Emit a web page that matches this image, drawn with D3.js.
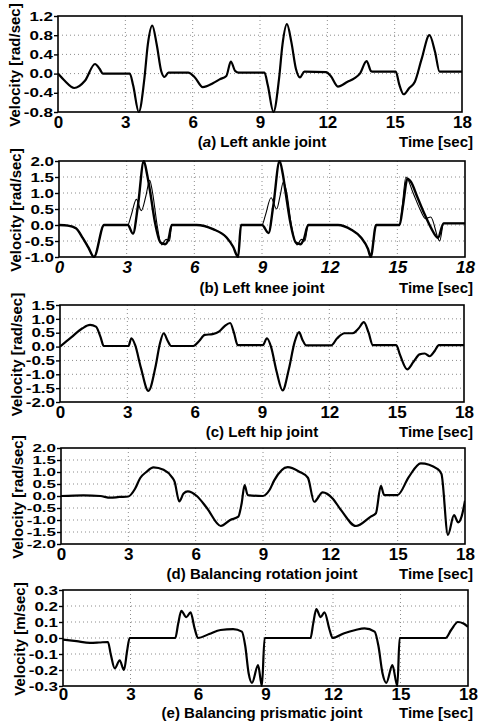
<!DOCTYPE html>
<html><head><meta charset="utf-8">
<script src="https://cdn.jsdelivr.net/npm/d3@7"></script>
<style>body{margin:0;background:#fff}svg{display:block}</style>
</head><body>
<svg id="chart" width="478" height="724"></svg>
<script>
// ---------- data ----------
const timeTicks = [0, 3, 6, 9, 12, 15, 18];

// (a) Left ankle joint
const ankleTicks = [-0.8, -0.4, 0.0, 0.4, 0.8, 1.2];
const ankleTime = [0,0.3,0.72,1.2,1.65,1.85,2.0, 3.2,3.35,3.6,3.85,4.0,4.2,4.4,4.6,4.75,4.92, 5.8,6.1,6.45,6.9,7.2,7.5,7.7,7.9,8.05, 9.2,9.35,9.6,9.85,10.0,10.2,10.4,10.6,10.78,10.98, 11.95,12.15,12.47,12.9,13.2,13.45,13.75,13.95,14.05, 15.05,15.2,15.4,15.65,15.9,16.2,16.55,16.8,17.0,18];
const ankleVel  = [0,-0.15,-0.3,-0.15,0.2,0.1,0.0, 0.0,-0.25,-0.8,-0.1,0.6,1.0,0.6,0.05,-0.07,0.02, 0.02,-0.08,-0.28,-0.2,-0.12,-0.05,0.25,0.05,0.02, 0.02,-0.25,-0.8,-0.1,0.6,1.03,0.65,0.1,-0.08,0.04, 0.03,-0.05,-0.27,-0.17,-0.1,0.0,0.26,0.05,0.04, 0.04,-0.22,-0.43,-0.3,-0.17,0.3,0.8,0.45,0.04,0.04];

// (b) Left knee joint – thick and thin curves
const kneeTicks = [-1.0, -0.5, 0.0, 0.5, 1.0, 1.5, 2.0];
const kneeTime = [0,0.4,0.75,1.05,1.3,1.55,2.0, 3.05,3.28,3.5,3.76,3.9,4.05,4.25,4.5,4.7,4.85,5.0, 6.1,6.83,7.43,7.72,7.94,8.07, 9.0,9.29,9.5,9.78,9.92,10.05,10.25,10.5,10.7,10.85,11.05, 12.37,12.96,13.4,13.7,13.82,14.06, 15.1,15.25,15.45,15.6,15.9,16.2,16.5,16.8,17.05,18];
const kneeVel  = [0,-0.02,-0.1,-0.4,-0.7,-1.0,0, 0,-0.27,0.6,2.0,1.6,1.0,0.1,-0.55,-0.6,-0.45,0, 0,-0.13,-0.39,-0.68,-1.0,0, 0,-0.25,0.6,2.0,1.6,1.0,0.1,-0.55,-0.6,-0.45,0, 0,-0.15,-0.4,-0.75,-1.0,0, 0,0.6,1.45,1.35,0.85,0.35,-0.1,-0.4,0.05,0.05];
const kneeThinTime = [0,0.4,0.75,1.05,1.3,1.55,2.0, 3.05,3.2,3.43,3.65,3.85,4.02,4.15,4.35,4.55,4.75,4.9,5.0, 6.1,6.83,7.43,7.72,7.94,8.07, 9.0,9.15,9.4,9.65,9.8,9.95,10.1,10.3,10.55,10.75,10.9,11.05, 12.37,12.96,13.4,13.7,13.82,14.06, 15.1,15.22,15.38,15.7,16.0,16.25,16.48,16.88,17.05,18];
const kneeThinVel  = [0,-0.02,-0.1,-0.4,-0.7,-1.0,0, 0,0.3,0.8,0.45,0.9,1.4,1.0,0.0,-0.62,-0.45,-0.5,0, 0,-0.13,-0.39,-0.68,-1.0,0, 0,0.3,0.85,0.5,0.9,1.35,1.0,0.0,-0.62,-0.45,-0.5,0, 0,-0.15,-0.4,-0.75,-1.0,0, 0,0.6,1.5,1.0,0.5,0.2,0.25,-0.5,0.05,0.05];

// (c) Left hip joint
const hipTicks = [-2.0, -1.5, -1.0, -0.5, 0.0, 0.5, 1.0, 1.5];
const hipTime = [0,0.5,1.0,1.34,1.6,1.8,1.95, 3.05,3.18,3.35,3.6,3.94,4.25,4.45,4.62,4.8,4.95, 5.94,6.2,6.45,6.8,7.1,7.35,7.58,7.75,7.92, 9.04,9.22,9.4,9.65,9.92,10.2,10.45,10.65,10.8,10.97, 12.08,12.35,12.68,13.05,13.3,13.54,13.75,13.94, 14.98,15.15,15.47,15.75,16.02,16.25,16.47,16.7,16.88,18];
const hipVel  = [0,0.33,0.66,0.78,0.72,0.36,0.02, 0.02,0.3,0.05,-0.75,-1.6,-0.75,0.1,0.48,0.2,0.02, 0.02,0.2,0.42,0.45,0.55,0.75,0.85,0.5,0.05, 0.05,0.3,0.0,-0.9,-1.58,-0.8,0.15,0.52,0.25,0.04, 0.04,0.3,0.48,0.48,0.65,0.88,0.5,0.05, 0.05,-0.3,-0.82,-0.55,-0.28,-0.25,-0.35,-0.15,0.05,0.05];

// (d) Balancing rotation joint
const rotTicks = [-2.0, -1.5, -1.0, -0.5, 0.0, 0.5, 1.0, 1.5, 2.0];
const rotTime = [0,1.0,1.75,2.2,2.6,3.0, 3.3,3.53,3.8,4.12,4.57,4.94,5.06,5.27,5.46,5.65,6.05,6.5,7.12,7.54,7.9,8.05,8.18,8.32,8.99, 9.29,9.5,10.1,10.62,11.0,11.28,11.66,12.1,12.47,13.14,13.8,14.03,14.25,14.4,14.99, 15.5,16.03,16.77,16.95,17.24,17.51,17.7,17.85,18];
const rotVel  = [0,0.03,0.0,-0.07,-0.04,-0.02, 0.3,0.75,1.0,1.19,1.09,0.79,0.6,-0.23,0.1,0.19,0.0,-0.5,-1.25,-1.0,-0.86,-0.3,0.45,0.04,0.0, 0.25,0.65,1.2,1.01,0.76,-0.24,0.15,-0.1,-0.58,-1.25,-0.86,-0.72,0.42,0.04,0.04, 0.8,1.36,1.13,0.92,-1.62,-0.8,-1.1,-0.85,-0.2];

// (e) Balancing prismatic joint
const prisTicks = [-0.3, -0.2, -0.1, 0.0, 0.1, 0.2, 0.3];
const prisTime = [0,0.6,1.2,1.6,2.0,2.12,2.3,2.52,2.71,2.85,2.96, 4.99,5.12,5.26,5.48,5.67,5.85,6.0,6.5,7.0,7.56,7.95,8.1,8.25,8.4,8.67,8.84,8.96, 11.0,11.12,11.26,11.45,11.62,11.85,11.98,12.5,13.0,13.4,13.85,14.02,14.2,14.37,14.64,14.86,14.96, 17.0,17.25,17.55,17.8,18];
const prisVel  = [-0.01,-0.02,-0.03,-0.028,-0.025,-0.1,-0.19,-0.14,-0.2,-0.08,0.0, 0.0,0.09,0.17,0.13,0.16,0.06,0.0,0.025,0.05,0.055,0.04,-0.05,-0.22,-0.28,-0.17,-0.3,0.0, 0.0,0.09,0.18,0.13,0.16,0.05,0.0,0.03,0.05,0.06,0.04,-0.05,-0.22,-0.28,-0.17,-0.3,0.0, 0.0,0.05,0.1,0.09,0.07];

const titles = ["(a) Left ankle joint", "(b) Left knee joint", "(c) Left hip joint", "(d) Balancing rotation joint", "(e) Balancing prismatic joint"];
const yLabels = ["Velocity [rad/sec]", "Velocity [rad/sec]", "Velocity [rad/sec]", "Velocity [rad/sec]", "Velocity [m/sec]"];
const xLabel = "Time [sec]";

// ---------- layout (positions only) ----------
const layout = [
  {left: 58, right: 462, top: 16,  bottom: 112, titleDy: 35, pad: 4, squash: 0.76},
  {left: 59, right: 465, top: 161, bottom: 257, titleDy: 36, pad: 4, squash: 0.76},
  {left: 60, right: 464, top: 305, bottom: 402, titleDy: 35, pad: 4, squash: 0.76},
  {left: 61, right: 465, top: 448, bottom: 544, titleDy: 35, pad: 4, squash: 0.6},
  {left: 63, right: 468, top: 590, bottom: 686, titleDy: 32, pad: 2, squash: 0.76}
];

const panels = [
  {ticks: ankleTicks, series: [{t: ankleTime, v: ankleVel, w: 2.2}]},
  {ticks: kneeTicks,  series: [{t: kneeThinTime, v: kneeThinVel, w: 1.1}, {t: kneeTime, v: kneeVel, w: 2.4}], italicX: true},
  {ticks: hipTicks,   series: [{t: hipTime, v: hipVel, w: 2.2}]},
  {ticks: rotTicks,   series: [{t: rotTime, v: rotVel, w: 2.2}]},
  {ticks: prisTicks,  series: [{t: prisTime, v: prisVel, w: 2.2}]}
];

// ---------- drawing ----------
const svg = d3.select('#chart');
const FONT = '"Liberation Sans", Arial, Helvetica, sans-serif';
const fmt = v => v.toFixed(1);

panels.forEach((p, i) => {
  const L = layout[i];
  const x = d3.scaleLinear().domain([timeTicks[0], timeTicks[timeTicks.length - 1]]).range([L.left, L.right]);
  const y = d3.scaleLinear().domain([p.ticks[0], p.ticks[p.ticks.length - 1]]).range([L.bottom, L.top]);
  const g = svg.append('g');

  // grid
  const grid = g.append('g').attr('stroke', '#8c8c8c').attr('stroke-width', 1).attr('stroke-dasharray', '1,3');
  grid.selectAll('line.vx').data(timeTicks.slice(1, -1)).join('line').attr('class', 'vx')
    .attr('x1', d => x(d)).attr('x2', d => x(d)).attr('y1', L.top).attr('y2', L.bottom);
  grid.selectAll('line.hy').data(p.ticks.slice(1, -1)).join('line').attr('class', 'hy')
    .attr('x1', L.left).attr('x2', L.right).attr('y1', d => y(d)).attr('y2', d => y(d));

  // clip
  const cid = 'clip' + i;
  svg.append('clipPath').attr('id', cid).append('rect')
    .attr('x', L.left).attr('y', L.top - 1).attr('width', L.right - L.left).attr('height', L.bottom - L.top + 2);

  const line = d3.line().x(d => x(d[0])).y(d => y(d[1])).curve(d3.curveMonotoneX);
  p.series.forEach(s => {
    g.append('path').attr('clip-path', `url(#${cid})`)
      .attr('d', line(s.t.map((t, k) => [t, s.v[k]])))
      .attr('fill', 'none').attr('stroke', '#000').attr('stroke-width', s.w)
      .attr('stroke-linejoin', 'round');
  });

  // frame
  g.append('rect').attr('x', L.left).attr('y', L.top).attr('width', L.right - L.left).attr('height', L.bottom - L.top)
    .attr('fill', 'none').attr('stroke', '#000').attr('stroke-width', 1.6);

  // y axis
  const ya = d3.axisLeft(y).tickValues(p.ticks).tickFormat(fmt).tickSize(4).tickPadding(1);
  const yg = g.append('g').attr('transform', `translate(${L.left},0)`).call(ya);
  yg.select('.domain').remove();
  yg.selectAll('line').attr('stroke', '#000').attr('stroke-width', 1.4);
  yg.selectAll('text').attr('font-family', FONT).attr('font-weight', 'bold').attr('font-size', 17)
    .attr('fill', '#000').attr('transform', `scale(1,${L.squash})`);

  // x axis
  const xa = d3.axisBottom(x).tickValues(timeTicks).tickFormat(d3.format('d')).tickSize(0).tickPadding(L.pad);
  const xg = g.append('g').attr('transform', `translate(0,${L.bottom})`).call(xa);
  xg.select('.domain').remove();
  xg.selectAll('text').attr('font-family', FONT).attr('font-weight', 'bold').attr('font-size', 17)
    .attr('fill', '#000').attr('dy', '0.72em')
    .attr('font-style', p.italicX ? 'italic' : 'normal');

  // y label
  g.append('text').attr('transform', `translate(${L.left - 38},${(L.top + L.bottom) / 2 + 1}) rotate(-90)`)
    .attr('text-anchor', 'middle').attr('font-family', FONT).attr('font-weight', 'bold').attr('font-size', 15)
    .text(yLabels[i]);

  // title & x label
  const ty = L.bottom + L.titleDy;
  const tt = g.append('text').attr('x', 262).attr('y', ty).attr('text-anchor', 'middle')
    .attr('font-family', FONT).attr('font-weight', 'bold').attr('font-size', 15);
  const m = titles[i].match(/^(\(.\))(.*)$/);
  if (i === 0) {
    tt.append('tspan').text('(');
    tt.append('tspan').attr('font-style', 'italic').text(m[1].slice(1, 2));
    tt.append('tspan').text(')' + m[2]);
  } else {
    tt.text(titles[i]);
  }
  g.append('text').attr('x', 473).attr('y', ty).attr('text-anchor', 'end')
    .attr('font-family', FONT).attr('font-weight', 'bold').attr('font-size', 15).text(xLabel);
});
</script>
</body></html>
